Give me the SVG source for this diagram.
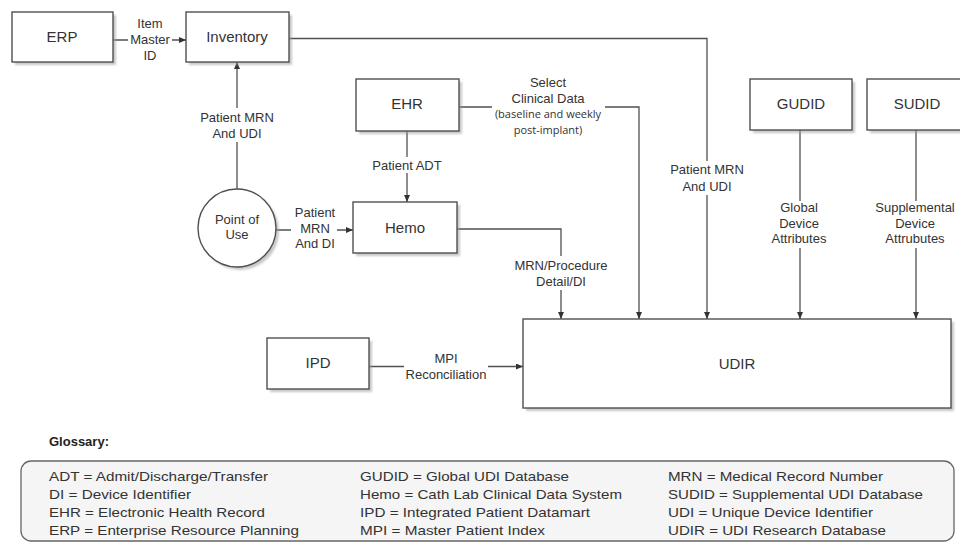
<svg xmlns="http://www.w3.org/2000/svg" width="960" height="546" viewBox="0 0 960 546">
<style>
.box{fill:#fff;stroke:#505050;stroke-width:1.4}
.shadow{fill:#9a9a9a;opacity:0.55;filter:url(#blur)}
.node{font-family:"Liberation Sans",Arial,sans-serif;font-size:15px;fill:#333;text-anchor:middle}
.lbl{font-family:"Liberation Sans",Arial,sans-serif;font-size:13px;fill:#333;text-anchor:middle}
.lbl2{font-family:"Open Sans","Liberation Sans",sans-serif;font-size:11px;fill:#333;text-anchor:middle}
.conn{fill:none;stroke:#505050;stroke-width:1.3;marker-end:url(#arr)}
.bg{fill:#fff}
.gl{font-family:"Liberation Sans",Arial,sans-serif;font-size:13px;fill:#333}
</style>
<defs>
<filter id="blur" x="-10%" y="-10%" width="120%" height="120%"><feGaussianBlur stdDeviation="1.2"/></filter>
<marker id="arr" markerUnits="userSpaceOnUse" markerWidth="8" markerHeight="7" refX="7" refY="3" orient="auto"><path d="M0,0 L7,3 L0,6 z" fill="#333"/></marker>
</defs>
<rect width="960" height="546" fill="#fff"/>
<g id="connectors">
<path class="conn" d="M113,40 H186"/>
<path class="conn" d="M289,38.5 H707 V319"/>
<path class="conn" d="M237,189 V62"/>
<path class="conn" d="M276,230 H353"/>
<path class="conn" d="M407,131 V202"/>
<path class="conn" d="M459,107 H639 V319"/>
<path class="conn" d="M457,229 H561 V319"/>
<path class="conn" d="M369,366.5 H523"/>
<path class="conn" d="M800,130 V319"/>
<path class="conn" d="M916,130 V319"/>
</g>
<g id="connector-labels">
<rect class="bg" x="128" y="34" width="44" height="12"/>
<text class="lbl" x="150" y="28">Item</text>
<text class="lbl" x="150" y="44">Master</text>
<text class="lbl" x="150" y="60">ID</text>
<rect class="bg" x="202" y="108" width="70" height="34"/>
<text class="lbl" x="237" y="122">Patient MRN</text>
<text class="lbl" x="237" y="138">And UDI</text>
<rect class="bg" x="291" y="220" width="46" height="20"/>
<text class="lbl" x="315" y="217">Patient</text>
<text class="lbl" x="315" y="233">MRN</text>
<text class="lbl" x="315" y="248">And DI</text>
<rect class="bg" x="368" y="157" width="78" height="16"/>
<text class="lbl" x="407" y="170">Patient ADT</text>
<rect class="bg" x="492" y="100" width="113" height="14"/>
<text class="lbl" x="548" y="87">Select</text>
<text class="lbl" x="548" y="103">Clinical Data</text>
<text class="lbl2" x="548" y="118">(baseline and weekly</text>
<text class="lbl2" x="548" y="134">post-implant)</text>
<rect class="bg" x="516" y="256" width="90" height="34"/>
<text class="lbl" x="561" y="270">MRN/Procedure</text>
<text class="lbl" x="561" y="286">Detail/DI</text>
<rect class="bg" x="666" y="161" width="82" height="34"/>
<text class="lbl" x="707" y="174">Patient MRN</text>
<text class="lbl" x="707" y="191">And UDI</text>
<rect class="bg" x="770" y="201" width="58" height="47"/>
<text class="lbl" x="799" y="212">Global</text>
<text class="lbl" x="799" y="228">Device</text>
<text class="lbl" x="799" y="243">Attributes</text>
<rect class="bg" x="868" y="201" width="92" height="47"/>
<text class="lbl" x="915" y="212">Supplemental</text>
<text class="lbl" x="915" y="228">Device</text>
<text class="lbl" x="915" y="243">Attrubutes</text>
<rect class="bg" x="404" y="358" width="84" height="14"/>
<text class="lbl" x="446" y="363">MPI</text>
<text class="lbl" x="446" y="379">Reconciliation</text>
</g>
<g id="ERP">
<rect class="shadow" x="15" y="15" width="101" height="50"/>
<rect class="box" x="12" y="12" width="101" height="50"/>
<text class="node" x="62" y="42">ERP</text>
</g>
<g id="Inventory">
<rect class="shadow" x="189" y="15" width="103" height="50"/>
<rect class="box" x="186" y="12" width="103" height="50"/>
<text class="node" x="237" y="42">Inventory</text>
</g>
<g id="EHR">
<rect class="shadow" x="359" y="82" width="103" height="52"/>
<rect class="box" x="356" y="79" width="103" height="52"/>
<text class="node" x="407" y="109">EHR</text>
</g>
<g id="GUDID">
<rect class="shadow" x="753" y="82" width="102" height="51"/>
<rect class="box" x="750" y="79" width="102" height="51"/>
<text class="node" x="801" y="109">GUDID</text>
</g>
<g id="SUDID">
<rect class="shadow" x="870" y="82" width="110" height="51"/>
<rect class="box" x="867" y="79" width="110" height="51"/>
<text class="node" x="917" y="109">SUDID</text>
</g>
<g id="PointOfUse">
<circle class="shadow" cx="240" cy="231" r="39"/>
<circle class="box" cx="237" cy="228" r="39"/>
<text class="lbl" x="237" y="224">Point of</text>
<text class="lbl" x="237" y="239">Use</text>
</g>
<g id="Hemo">
<rect class="shadow" x="356" y="205" width="104" height="51"/>
<rect class="box" x="353" y="202" width="104" height="51"/>
<text class="node" x="405" y="233">Hemo</text>
</g>
<g id="IPD">
<rect class="shadow" x="270" y="341" width="102" height="51"/>
<rect class="box" x="267" y="338" width="102" height="51"/>
<text class="node" x="318" y="368">IPD</text>
</g>
<g id="UDIR">
<rect class="shadow" x="526" y="322" width="428" height="89"/>
<rect class="box" x="523" y="319" width="428" height="89"/>
<text class="node" x="737" y="369">UDIR</text>
</g>
<g id="Glossary">
<text x="49" y="446" style="font-family:'Liberation Sans',Arial,sans-serif;font-size:13px;font-weight:bold;fill:#222">Glossary:</text>
<rect x="21" y="461" width="933" height="80" rx="10" ry="10" fill="#f5f5f5" stroke="#666" stroke-width="1.3"/>
<text class="gl" x="49" y="481" textLength="219" lengthAdjust="spacingAndGlyphs">ADT = Admit/Discharge/Transfer</text>
<text class="gl" x="49" y="499" textLength="142" lengthAdjust="spacingAndGlyphs">DI = Device Identifier</text>
<text class="gl" x="49" y="517" textLength="216" lengthAdjust="spacingAndGlyphs">EHR = Electronic Health Record</text>
<text class="gl" x="49" y="535" textLength="250" lengthAdjust="spacingAndGlyphs">ERP = Enterprise Resource Planning</text>
<text class="gl" x="360" y="481" textLength="209" lengthAdjust="spacingAndGlyphs">GUDID = Global UDI Database</text>
<text class="gl" x="360" y="499" textLength="262" lengthAdjust="spacingAndGlyphs">Hemo = Cath Lab Clinical Data System</text>
<text class="gl" x="360" y="517" textLength="230" lengthAdjust="spacingAndGlyphs">IPD = Integrated Patient Datamart</text>
<text class="gl" x="360" y="535" textLength="185" lengthAdjust="spacingAndGlyphs">MPI = Master Patient Index</text>
<text class="gl" x="668" y="481" textLength="215" lengthAdjust="spacingAndGlyphs">MRN = Medical Record Number</text>
<text class="gl" x="668" y="499" textLength="255" lengthAdjust="spacingAndGlyphs">SUDID = Supplemental UDI Database</text>
<text class="gl" x="668" y="517" textLength="205" lengthAdjust="spacingAndGlyphs">UDI = Unique Device Identifier</text>
<text class="gl" x="668" y="535" textLength="218" lengthAdjust="spacingAndGlyphs">UDIR = UDI Research Database</text>
</g>
</svg>
